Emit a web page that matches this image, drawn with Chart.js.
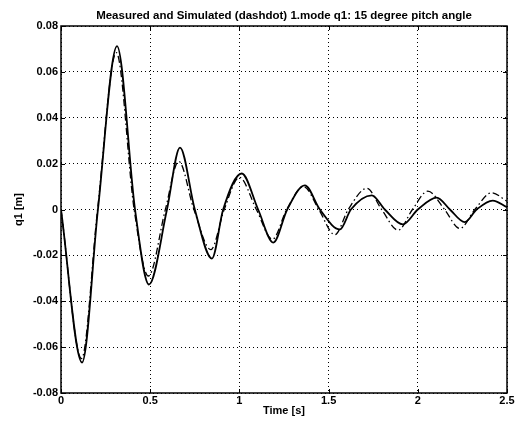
<!DOCTYPE html>
<html>
<head>
<meta charset="utf-8">
<script src="https://cdn.jsdelivr.net/npm/chart.js@4/dist/chart.umd.min.js"></script>
<style>
  html, body { margin: 0; padding: 0; background: #fff; }
  #wrap { width: 518px; height: 427px; }
</style>
</head>
<body>
<div id="wrap"><canvas id="c" width="518" height="427"></canvas></div>
<script>
// Measured (solid) series: time [s] and q1 [m]
const measuredTime = [0, 0.118, 0.207, 0.314, 0.415, 0.493, 0.594, 0.667, 0.75, 0.846, 0.909, 1.013, 1.105, 1.19, 1.268, 1.367, 1.451, 1.563, 1.625, 1.742, 1.815, 1.916, 2.0, 2.106, 2.18, 2.263, 2.33, 2.42, 2.5];
const measuredQ1   = [0, -0.0667, 0, 0.0712, 0, -0.0327, 0, 0.027, 0, -0.0214, 0, 0.0157, 0, -0.0144, 0, 0.0105, 0, -0.0087, 0, 0.0062, 0, -0.0065, 0, 0.0052, 0, -0.0055, 0, 0.0039, 0.001];

// Simulated (dashdot) series
const simulatedTime = [0, 0.115, 0.205, 0.31, 0.41, 0.49, 0.585, 0.66, 0.745, 0.84, 0.915, 1.0, 1.095, 1.185, 1.265, 1.36, 1.445, 1.535, 1.61, 1.714, 1.797, 1.89, 1.97, 2.056, 2.15, 2.235, 2.32, 2.413, 2.5];
const simulatedQ1   = [0, -0.065, 0, 0.0684, 0, -0.029, 0, 0.021, 0, -0.0175, 0, 0.014, 0, -0.013, 0, 0.0100, 0, -0.011, 0, 0.0092, 0, -0.009, 0, 0.008, 0, -0.0083, 0, 0.0073, 0.0036];

// Tick labels
const xTickValues = [0, 0.5, 1, 1.5, 2, 2.5];
const xTickLabels = ['0', '0.5', '1', '1.5', '2', '2.5'];
const yTickValues = [-0.08, -0.06, -0.04, -0.02, 0, 0.02, 0.04, 0.06, 0.08];
const yTickLabels = ['-0.08', '-0.06', '-0.04', '-0.02', '0', '0.02', '0.04', '0.06', '0.08'];

const titleText = 'Measured and Simulated (dashdot) 1.mode q1: 15 degree pitch angle';
const xTitle = 'Time [s]';
const yTitle = 'q1 [m]';

const FONT = "'Liberation Sans', Arial, Helvetica, sans-serif";

function pts(xs, ys) { return xs.map((x, i) => ({ x: x, y: ys[i] })); }
function labelFor(values, labels, v) {
  for (let i = 0; i < values.length; i++) if (Math.abs(values[i] - v) < 1e-9) return labels[i];
  return '';
}

const boxPlugin = {
  id: 'box',
  afterDraw(chart) {
    const { ctx, chartArea: a, scales } = chart;
    ctx.save();
    ctx.strokeStyle = '#000';
    ctx.lineWidth = 1.5;
    ctx.setLineDash([]);
    ctx.strokeRect(a.left, a.top, a.right - a.left, a.bottom - a.top);
    ctx.lineWidth = 1;
    const tl = 4;
    xTickValues.forEach(v => {
      const px = Math.round(scales.x.getPixelForValue(v)) + 0.5;
      ctx.beginPath();
      ctx.moveTo(px, a.bottom); ctx.lineTo(px, a.bottom - tl);
      ctx.moveTo(px, a.top); ctx.lineTo(px, a.top + tl);
      ctx.stroke();
    });
    yTickValues.forEach(v => {
      const py = Math.round(scales.y.getPixelForValue(v)) + 0.5;
      ctx.beginPath();
      ctx.moveTo(a.left, py); ctx.lineTo(a.left + tl, py);
      ctx.moveTo(a.right, py); ctx.lineTo(a.right - tl, py);
      ctx.stroke();
    });
    ctx.restore();
  }
};

new Chart(document.getElementById('c'), {
  type: 'line',
  data: {
    datasets: [
      {
        label: 'Measured',
        data: pts(measuredTime, measuredQ1),
        borderColor: '#000',
        borderWidth: 1.8,
        pointRadius: 0,
        fill: false,
        cubicInterpolationMode: 'monotone'
      },
      {
        label: 'Simulated',
        data: pts(simulatedTime, simulatedQ1),
        borderColor: '#000',
        borderWidth: 1.3,
        borderDash: [7, 3, 1.5, 3],
        pointRadius: 0,
        fill: false,
        cubicInterpolationMode: 'monotone'
      }
    ]
  },
  options: {
    responsive: false,
    animation: false,
    devicePixelRatio: 1,
    layout: { padding: { left: 0, right: 11, top: 0, bottom: 0 } },
    plugins: {
      legend: { display: false },
      tooltip: { enabled: false },
      title: {
        display: true,
        fullSize: false,
        text: titleText,
        color: '#000',
        font: { family: FONT, size: 11.5, weight: 'bold' },
        padding: { top: 9, bottom: 3.2 }
      }
    },
    scales: {
      x: {
        type: 'linear',
        min: 0, max: 2.5,
        afterBuildTicks(scale) { scale.ticks = xTickValues.map(v => ({ value: v })); },
        afterFit(scale) { scale.height = 34; },
        ticks: {
          color: '#000',
          font: { family: FONT, size: 11, weight: 'bold' },
          padding: 1,
          maxRotation: 0,
          callback: (v) => labelFor(xTickValues, xTickLabels, v)
        },
        grid: { color: '#000', lineWidth: 1, drawTicks: false },
        border: { display: false, dash: [1, 3] },
        title: {
          display: true,
          text: xTitle,
          color: '#000',
          font: { family: FONT, size: 11, weight: 'bold' },
          padding: { top: 1, bottom: 9 }
        }
      },
      y: {
        type: 'linear',
        min: -0.08, max: 0.08,
        afterBuildTicks(scale) { scale.ticks = yTickValues.map(v => ({ value: v })); },
        afterFit(scale) { scale.width = 61; },
        ticks: {
          color: '#000',
          font: { family: FONT, size: 11, weight: 'bold' },
          padding: 3,
          callback: (v) => labelFor(yTickValues, yTickLabels, v)
        },
        grid: { color: '#000', lineWidth: 1, drawTicks: false },
        border: { display: false, dash: [1, 3] },
        title: {
          display: true,
          text: yTitle,
          color: '#000',
          font: { family: FONT, size: 11, weight: 'bold' },
          padding: { top: 12, bottom: 0 }
        }
      }
    }
  },
  plugins: [boxPlugin]
});
</script>
</body>
</html>
